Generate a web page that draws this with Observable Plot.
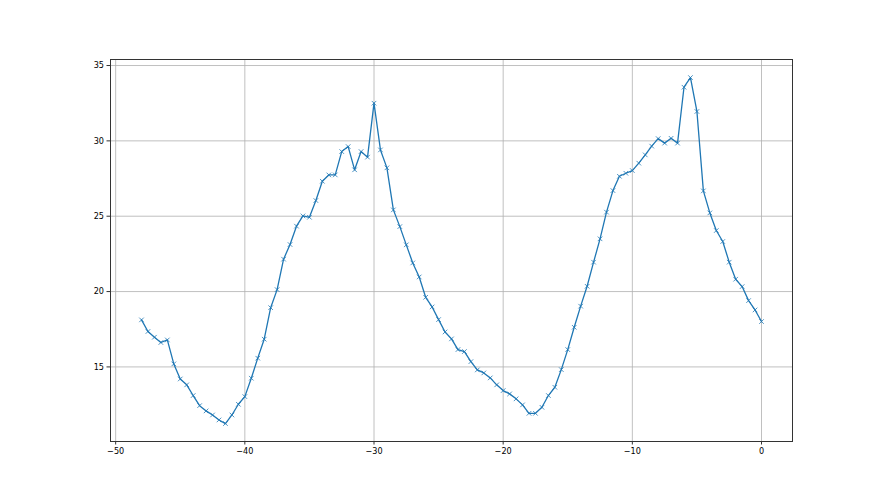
<!DOCTYPE html>
<html>
<head>
<meta charset="utf-8">
<script src="https://cdn.jsdelivr.net/npm/d3@7"></script>
<script src="https://cdn.jsdelivr.net/npm/@observablehq/plot@0.6"></script>
<style>
  html, body { margin: 0; padding: 0; background: #fff; }
  #chart svg { display: block; }
</style>
</head>
<body>
<div id="chart"></div>
<script>
const xValues = [
  -48, -47.5, -47, -46.5, -46, -45.5, -45, -44.5, -44, -43.5, -43, -42.5, -42, -41.5, -41, -40.5,
  -40, -39.5, -39, -38.5, -38, -37.5, -37, -36.5, -36, -35.5, -35, -34.5, -34, -33.5, -33, -32.5,
  -32, -31.5, -31, -30.5, -30, -29.5, -29, -28.5, -28, -27.5, -27, -26.5, -26, -25.5, -25, -24.5,
  -24, -23.5, -23, -22.5, -22, -21.5, -21, -20.5, -20, -19.5, -19, -18.5, -18, -17.5, -17, -16.5,
  -16, -15.5, -15, -14.5, -14, -13.5, -13, -12.5, -12, -11.5, -11, -10.5, -10, -9.5, -9, -8.5,
  -8, -7.5, -7, -6.5, -6, -5.5, -5, -4.5, -4, -3.5, -3, -2.5, -2, -1.5, -1, -0.5, 0
];
const yValues = [
  18.12, 17.35, 16.97, 16.62, 16.79, 15.20, 14.20, 13.81, 13.10, 12.43, 12.08, 11.81, 11.48, 11.24, 11.81, 12.52,
  13.03, 14.25, 15.58, 16.84, 18.93, 20.13, 22.15, 23.12, 24.34, 25.02, 24.93, 26.04, 27.32, 27.74, 27.74, 29.29,
  29.62, 28.08, 29.29, 28.92, 32.50, 29.40, 28.21, 25.42, 24.31, 23.10, 21.90, 20.97, 19.62, 18.98, 18.14, 17.32,
  16.86, 16.15, 16.02, 15.35, 14.80, 14.60, 14.27, 13.81, 13.43, 13.21, 12.88, 12.48, 11.92, 11.92, 12.32, 13.10,
  13.65, 14.82, 16.15, 17.63, 19.03, 20.35, 21.95, 23.50, 25.27, 26.70, 27.65, 27.85, 28.03, 28.52, 29.07, 29.65,
  30.15, 29.85, 30.17, 29.85, 33.56, 34.20, 31.95, 26.68, 25.22, 24.05, 23.32, 21.95, 20.82, 20.33, 19.40, 18.78, 18.01
];
const xTicks = [-50, -40, -30, -20, -10, 0];
const yTicks = [15, 20, 25, 30, 35];

const data = xValues.map((x, i) => ({x, y: yValues[i]}));

const chart = Plot.plot({
  width: 880,
  height: 495,
  marginLeft: 110,
  marginRight: 88,
  marginTop: 59,
  marginBottom: 54,
  style: {
    fontFamily: "'DejaVu Sans Condensed', 'DejaVu Sans', sans-serif",
    fontSize: "9px",
    color: "#000",
    background: "#fff"
  },
  x: {domain: [-50.4, 2.4]},
  y: {domain: [10.05, 35.4]},
  marks: [
    Plot.gridX(xTicks, {stroke: "#b0b0b0", strokeOpacity: 1, strokeWidth: 0.8}),
    Plot.gridY(yTicks, {stroke: "#b0b0b0", strokeOpacity: 1, strokeWidth: 0.8}),
    Plot.line(data, {x: "x", y: "y", stroke: "#1f77b4", strokeWidth: 1.3}),
    Plot.dot(data, {x: "x", y: "y", symbol: "times", r: 2.2, stroke: "#1f77b4", strokeWidth: 0.8}),
    Plot.frame({stroke: "#333", strokeWidth: 1}),
    Plot.axisX({ticks: xTicks, tickSize: 3.5, tickPadding: 3, label: null, stroke: "#333"}),
    Plot.axisY({ticks: yTicks, tickSize: 3.5, tickPadding: 3, label: null, stroke: "#333"})
  ]
});
document.getElementById("chart").appendChild(chart);
</script>
</body>
</html>
